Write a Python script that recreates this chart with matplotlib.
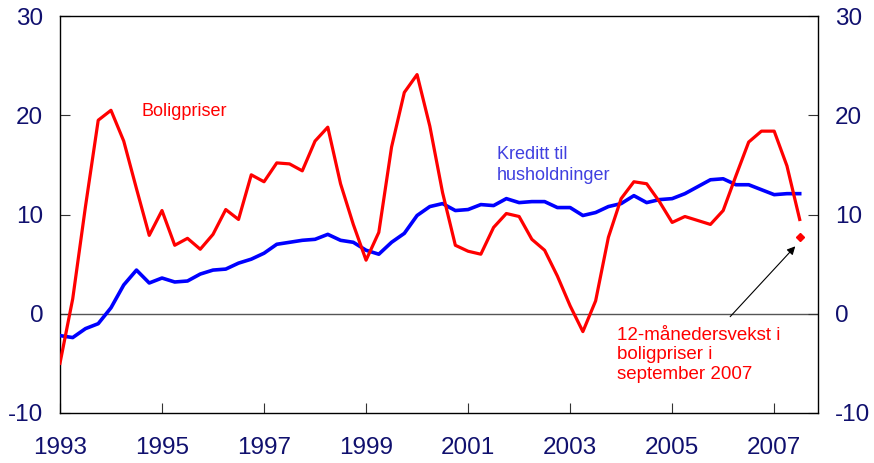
import numpy as np
import matplotlib
matplotlib.use('Agg')
import matplotlib.pyplot as plt

plt.rcParams['font.family'] = ['Liberation Sans', 'DejaVu Sans']
plt.rcParams['axes.unicode_minus'] = False

# kvartalsdata fra 1993 K1
start_aar = 1993
boligpriser = [-5.0, 1.5, 10.8, 19.5, 20.5, 17.4, 12.6, 7.9, 10.4, 6.9,
               7.6, 6.5, 8.0, 10.5, 9.5, 14.0, 13.3, 15.2, 15.1, 14.4,
               17.4, 18.8, 13.1, 9.0, 5.4, 8.2, 16.8, 22.3, 24.1, 18.9,
               12.2, 6.9, 6.3, 6.0, 8.7, 10.1, 9.8, 7.5, 6.4, 3.8,
               0.8, -1.8, 1.3, 7.7, 11.6, 13.3, 13.1, 11.3, 9.2, 9.8,
               9.4, 9.0, 10.4, 13.9, 17.3, 18.4, 18.4, 14.9, 9.5]
kreditt = [-2.2, -2.4, -1.5, -1.0, 0.6, 2.9, 4.4, 3.1, 3.6, 3.2,
           3.3, 4.0, 4.4, 4.5, 5.1, 5.5, 6.1, 7.0, 7.2, 7.4,
           7.5, 8.0, 7.4, 7.2, 6.4, 6.0, 7.2, 8.1, 9.9, 10.8,
           11.1, 10.4, 10.5, 11.0, 10.9, 11.6, 11.2, 11.3, 11.3, 10.7,
           10.7, 9.9, 10.2, 10.8, 11.1, 11.9, 11.2, 11.5, 11.6, 12.1,
           12.8, 13.5, 13.6, 13.0, 13.0, 12.5, 12.0, 12.1, 12.1]
sept2007_x = 2007.5
sept2007 = 7.7

aar_ticks = [1993, 1995, 1997, 1999, 2001, 2003, 2005, 2007]
y_ticks = [-10, 0, 10, 20, 30]

x = start_aar + np.arange(len(boligpriser)) * 0.25

tekstfarge = '#10106e'

fig = plt.figure(figsize=(8.74, 4.63), dpi=100)
ax = fig.add_axes([0.0686, 0.108, 0.8674, 0.8574])

ax.axhline(0, color='#555555', lw=1.0, zorder=1)
ax.plot(x, kreditt, color='#0000ff', lw=2.6, zorder=3)
ax.plot(x, boligpriser, color='#ff0000', lw=2.3, zorder=4)
ax.plot([sept2007_x], [sept2007], marker='D', color='#ff0000', markersize=4, zorder=5)

ax.set_xlim(1993, 2007.86)
ax.set_ylim(-10, 30)
ax.set_xticks(aar_ticks)
ax.set_xticklabels([str(a) for a in aar_ticks])
ax.set_yticks(y_ticks)

ax.tick_params(axis='x', direction='in', length=7, pad=17, labelsize=17.5,
               labelcolor=tekstfarge, color='#333333')
ax.tick_params(axis='y', direction='in', length=7, pad=12, labelsize=17.5,
               labelcolor=tekstfarge, color='#333333', right=True, labelright=True)
for s in ax.spines.values():
    s.set_linewidth(1.0)
    s.set_color('black')

ax.text(1994.59, 20.4, 'Boligpriser', color='#ff0000', fontsize=13, va='center', ha='left')
ax.text(2001.57, 15.0, 'Kreditt til\nhusholdninger', color='#4040e0', fontsize=13,
        va='center', ha='left', linespacing=1.25)
ax.annotate('', xy=(2007.45, 7.0), xytext=(2006.1, -0.5),
            arrowprops=dict(arrowstyle='-|>', color='black', lw=0.8, mutation_scale=12))
ax.text(2003.92, -1.3, '12-månedersvekst i\nboligpriser i\nseptember 2007', color='#ff0000',
        fontsize=13.5, va='top', ha='left', linespacing=1.2)

fig.savefig('out.png', dpi=100)
